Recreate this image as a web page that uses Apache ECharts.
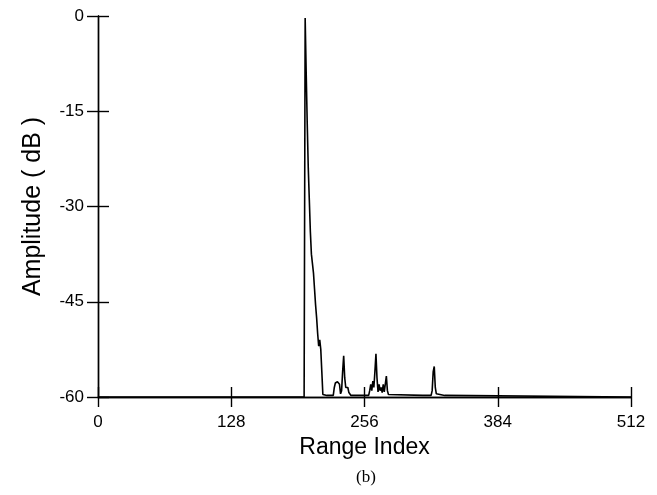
<!DOCTYPE html>
<html>
<head>
<meta charset="utf-8">
<script src="https://cdn.jsdelivr.net/npm/echarts@6/dist/echarts.min.js"></script>
<style>html,body{margin:0;padding:0;background:#fff}#c{width:657px;height:495px}</style>
</head>
<body>
<div id="c"></div>
<script>
// Range index positions (sparse samples along the trace)
var rangeIndex = [0, 198, 199, 200, 201, 202, 203, 204, 205, 206, 207, 208, 209, 210, 211, 212, 213, 214, 215, 216,
  220, 226, 227, 228, 230, 232, 233, 234, 235, 236, 237, 238, 239, 240, 241, 242, 243,
  260, 261, 262, 263, 264, 265, 266, 267, 268, 269, 270, 271, 272, 273, 274, 275, 276, 277, 278, 279,
  312, 320, 321, 322, 323, 324, 325, 333, 334, 512];
// Amplitude in dB at each range index
var amplitude = [-60, -60, -0.3, -9, -17, -24, -29, -34, -37.5, -39, -40.5, -43, -45.5, -47.5, -50, -52, -51, -52.5, -56, -59.6,
  -59.75, -59.75, -58.5, -57.8, -57.6, -58, -59.5, -59, -56, -53.5, -57, -58.5, -58.8, -58.5, -59.3, -59, -59.75,
  -59.75, -59, -58, -59, -57.5, -58.5, -56, -53.2, -57, -59.2, -58, -59, -58.5, -59.3, -58, -59.2, -59, -56.7, -59, -59.6,
  -59.75, -59.75, -59, -56, -55.2, -58.5, -59.5, -59.75, -60, -60];
var xTicks = [0, 128, 256, 384, 512];
var yTicks = [-60, -45, -30, -15, 0];
var xTitle = 'Range Index';
var yTitle = 'Amplitude ( dB )';
var caption = '(b)';

var seriesData = rangeIndex.map(function (x, i) { return [x, amplitude[i]]; });
var font = 'Liberation Sans, Arial, Helvetica, sans-serif';
var lineStyle = { color: '#000', width: 1.4 };
var gridL = 98, gridR = 26, gridT = 16, gridB = 98;
var W = 657, H = 495;

var chart = echarts.init(document.getElementById('c'), null, { renderer: 'canvas' });
chart.setOption({
  animation: false,
  backgroundColor: '#fff',
  grid: { left: gridL, right: gridR, top: gridT, bottom: gridB, containLabel: false },
  xAxis: [{
    type: 'value', min: xTicks[0], max: xTicks[xTicks.length - 1], interval: 128, position: 'bottom',
    name: xTitle, nameLocation: 'middle', nameGap: 35,
    nameTextStyle: { fontFamily: font, fontSize: 23, color: '#000' },
    axisLine: { show: true, onZero: false, lineStyle: lineStyle },
    axisTick: { show: true, inside: false, length: 10, lineStyle: lineStyle },
    axisLabel: { fontFamily: font, fontSize: 17, color: '#000', margin: 17 },
    splitLine: { show: false }
  }, {
    // mirror axis placed onto the bottom line so ticks also point upward
    type: 'value', min: xTicks[0], max: xTicks[xTicks.length - 1], interval: 128, position: 'top',
    offset: -(H - gridT - gridB),
    axisLine: { show: true, onZero: false, lineStyle: lineStyle },
    axisTick: { show: true, inside: false, length: 10, lineStyle: lineStyle },
    axisLabel: { show: false }, splitLine: { show: false }
  }],
  yAxis: [{
    type: 'value', min: yTicks[0], max: yTicks[yTicks.length - 1], interval: 15, position: 'left',
    name: yTitle, nameLocation: 'middle', nameGap: 52,
    nameTextStyle: { fontFamily: font, fontSize: 25, color: '#000' },
    axisLine: { show: true, onZero: false, lineStyle: lineStyle },
    axisTick: { show: true, inside: false, length: 11, lineStyle: lineStyle },
    axisLabel: { fontFamily: font, fontSize: 17, color: '#000', margin: 14 },
    splitLine: { show: false }
  }, {
    // mirror axis placed onto the left line so ticks also point right
    type: 'value', min: yTicks[0], max: yTicks[yTicks.length - 1], interval: 15, position: 'right',
    offset: -(W - gridL - gridR),
    axisLine: { show: true, onZero: false, lineStyle: lineStyle },
    axisTick: { show: true, inside: false, length: 11, lineStyle: lineStyle },
    axisLabel: { show: false }, splitLine: { show: false }
  }],
  graphic: [{
    type: 'text', x: 366, y: 478,
    style: { text: caption, font: '17px "Liberation Serif", "Times New Roman", serif', fill: '#000', textAlign: 'center', textVerticalAlign: 'middle' }
  }],
  series: [{
    type: 'line', xAxisIndex: 0, yAxisIndex: 0, data: seriesData,
    showSymbol: false, symbol: 'none', lineStyle: { color: '#000', width: 1.6 }, z: 3
  }, {
    type: 'line', xAxisIndex: 1, yAxisIndex: 1, data: [],
    showSymbol: false, symbol: 'none', silent: true
  }]
});
</script>
</body>
</html>
